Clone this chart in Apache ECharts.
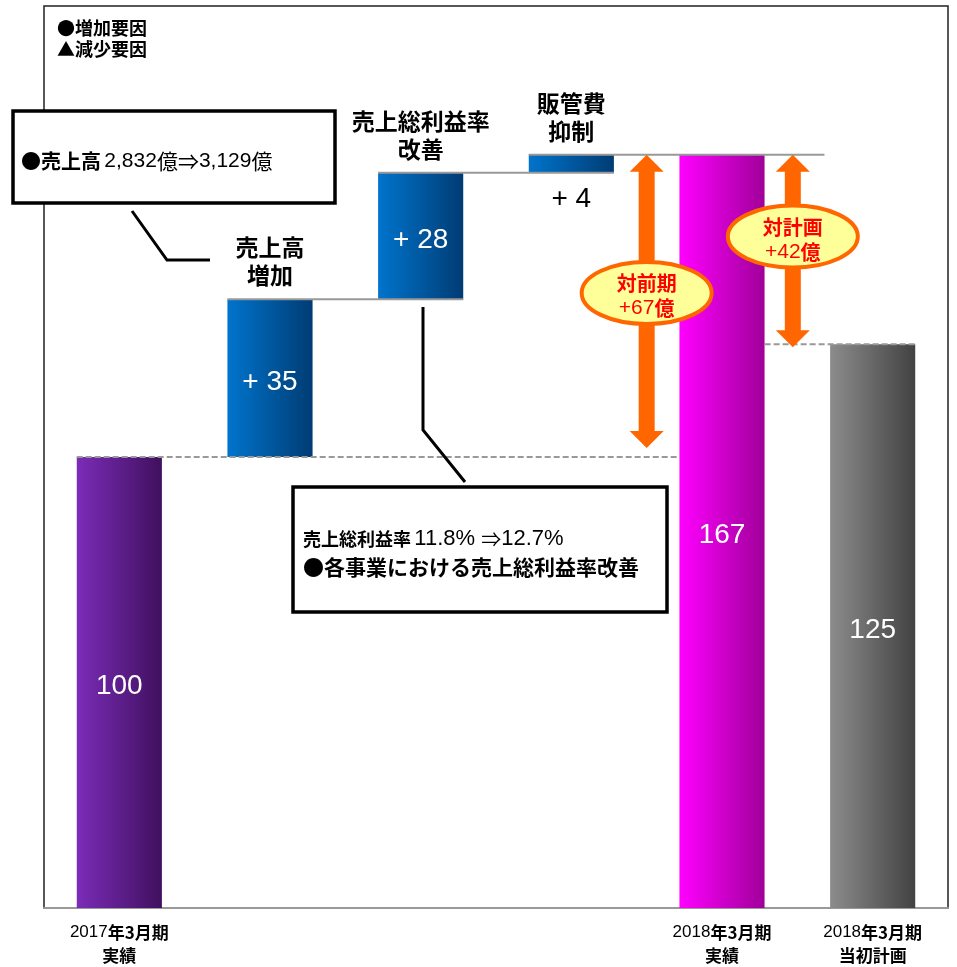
<!DOCTYPE html>
<html>
<head>
<meta charset="utf-8">
<title>営業利益 増減要因</title>
<script src="https://cdn.jsdelivr.net/npm/echarts@6/dist/echarts.min.js"></script>
<style>
  html, body { margin: 0; padding: 0; background: #fff; }
  #chart { width: 957px; height: 967px; }
</style>
</head>
<body>
<div id="chart"></div>
<script>
// x軸のカテゴリ
const categories = ['2017年3月期\n実績', '', '', '', '2018年3月期\n実績', '2018年3月期\n当初計画'];
// 増減要因（バーの上の見出し）
const stepNames = ['', '売上高\n増加', '売上総利益率\n改善', '販管費\n抑制', '', ''];
// 値：合計は0から、要因は前の合計に積み上げ
const values = [100, 35, 28, 4, 167, 125];
const isTotal = [true, false, false, false, true, true];
const valueLabels = ['100', '+ 35', '+ 28', '+ 4', '167', '125'];
// 比較矢印（実績 → 比較対象）
const compareFrom = [4, 4];
const compareTo = [0, 5];
const compareTitles = ['対前期', '対計画'];

// ---- レイアウト・スタイル ----
const HALF = 0.283;            // バー幅の半分（カテゴリ幅比）
const compareX = [3.5, 4.47];  // 矢印の位置（カテゴリ単位）
const arrowInset = [9, -3];    // 矢印下端の余白(px)
const barColors = [
  ['#7B2CB8', '#40105E'],
  ['#0074CC', '#003C74'],
  ['#0074CC', '#003C74'],
  ['#0074CC', '#003C74'],
  ['#FF00FF', '#A0009A'],
  ['#8C8C8C', '#424242']
];
const LATIN = '"Liberation Sans", Arial, sans-serif';
const CJK = '"Noto Sans CJK JP", sans-serif';

// 積み上げのベース計算
const base = [];
let running = 0;
values.forEach((v, i) => {
  if (isTotal[i]) { base.push(0); running = v; }
  else { base.push(running); running += v; }
});
const tops = values.map((v, i) => base[i] + v);

// 連結線
const connectors = [
  { level: tops[0], from: -HALF, to: 4 - HALF, dashed: true },
  { level: tops[1], from: 1 - HALF, to: 2 + HALF },
  { level: tops[2], from: 2 - HALF, to: 3 + HALF },
  { level: tops[3], from: 3 - HALF, to: 4.68 },
  { level: tops[5], from: 4 + HALF, to: 5 + HALF, dashed: true }
];

const chart = echarts.init(document.getElementById('chart'));

function grad(c) {
  return new echarts.graphic.LinearGradient(0, 0, 1, 0, [
    { offset: 0, color: c[0] }, { offset: 1, color: c[1] }
  ]);
}

const barData = values.map((v, i) => {
  const item = { value: v, itemStyle: { color: grad(barColors[i]) } };
  if (i === 3) {
    item.label = { position: 'bottom', color: '#000', distance: 12, offset: [0, 0] };
  }
  return item;
});

const option = {
  animation: false,
  backgroundColor: '#fff',
  grid: {
    left: 44, right: 9, top: 6, bottom: 59,
    show: true, borderColor: '#222', borderWidth: 1.5
  },
  xAxis: {
    type: 'category',
    data: categories,
    axisLine: { lineStyle: { color: '#999', width: 2 } },
    axisTick: { lineStyle: { color: '#999', width: 2 }, length: 5 },
    axisLabel: {
      interval: 0,
      margin: 13,
      formatter: v => {
        if (!v) return '';
        const [l1, l2] = v.split('\n');
        const m = l1.match(/^(\d+)(.*)$/);
        return '{n|' + m[1] + '}{b|' + m[2] + '}\n{b|' + l2 + '}';
      },
      rich: {
        n: { fontFamily: LATIN, fontSize: 17, color: '#000', lineHeight: 23 },
        b: { fontFamily: CJK, fontSize: 17, fontWeight: 'bold', color: '#000', lineHeight: 23 }
      }
    }
  },
  yAxis: { type: 'value', min: 0, max: 200, show: false, splitLine: { show: false } },
  series: [
    {
      type: 'bar', stack: 'w', barWidth: '56.5%',
      itemStyle: { color: 'transparent' },
      emphasis: { disabled: true },
      data: base
    },
    {
      type: 'bar', stack: 'w', barWidth: '56.5%',
      data: barData,
      label: {
        show: true, position: 'inside', color: '#fff',
        fontFamily: LATIN, fontSize: 28, offset: [0, 4],
        formatter: p => valueLabels[p.dataIndex]
      }
    },
    {
      // 連結線
      type: 'custom', z: 5,
      data: connectors.map(c => [0, c.level, c.from, c.to, c.dashed ? 1 : 0]),
      encode: { x: 0, y: 1 },
      renderItem: (params, api) => {
        const p = api.coord([0, api.value(1)]);
        const bw = api.size([1, 0])[0];
        return {
          type: 'line',
          shape: { x1: p[0] + api.value(2) * bw, y1: p[1], x2: p[0] + api.value(3) * bw, y2: p[1] },
          style: { stroke: '#999', lineWidth: 2, lineDash: api.value(4) ? [6, 3] : null }
        };
      }
    },
    {
      // 要因の見出し
      type: 'custom', z: 6,
      data: stepNames.map((n, i) => [i, tops[i]]),
      encode: { x: 0, y: 1 },
      renderItem: (params, api) => {
        const name = stepNames[params.dataIndex];
        if (!name) return null;
        const p = api.coord([api.value(0), api.value(1)]);
        return {
          type: 'text',
          x: p[0], y: p[1] - 10,
          style: {
            text: name, fill: '#000', align: 'center', verticalAlign: 'bottom',
            font: 'bold 23px ' + CJK, lineHeight: 28
          }
        };
      }
    },
    {
      // 比較矢印
      type: 'custom', z: 8,
      data: compareFrom.map((f, i) => [0, tops[f], tops[compareTo[i]], compareX[i], arrowInset[i]]),
      encode: { x: 0, y: 1 },
      renderItem: (params, api) => {
        const i = params.dataIndex;
        const bw = api.size([1, 0])[0];
        const pTop = api.coord([0, api.value(1)]);
        const pBot = api.coord([0, api.value(2)]);
        const x = pTop[0] + api.value(3) * bw;
        const y1 = pTop[1], y2 = pBot[1] - api.value(4);
        const sw = 8, hw = 17, hl = 17;
        const pts = [
          [x, y1], [x + hw, y1 + hl], [x + sw, y1 + hl], [x + sw, y2 - hl], [x + hw, y2 - hl],
          [x, y2], [x - hw, y2 - hl], [x - sw, y2 - hl], [x - sw, y1 + hl], [x - hw, y1 + hl]
        ];
        const diff = api.value(1) - api.value(2);
        const cy = (pTop[1] + pBot[1]) / 2 - 13;
        return {
          type: 'group',
          children: [
            { type: 'polygon', shape: { points: pts }, style: { fill: '#FF6600' } },
            {
              type: 'ellipse', shape: { cx: x, cy: cy, rx: 65, ry: 31 },
              style: { fill: '#FFFF99', stroke: '#FF6600', lineWidth: 4 }
            },
            {
              type: 'text', x: x, y: cy + 3,
              style: {
                text: '{t|' + compareTitles[i] + '}\n{n|+' + diff + '}{k|億}',
                align: 'center', verticalAlign: 'middle',
                rich: {
                  t: { fontFamily: CJK, fontWeight: 'bold', fontSize: 20, fill: '#FF0000', lineHeight: 25 },
                  n: { fontFamily: LATIN, fontSize: 21, fill: '#FF0000', lineHeight: 25 },
                  k: { fontFamily: CJK, fontWeight: 'bold', fontSize: 20, fill: '#FF0000', lineHeight: 25 }
                }
              }
            }
          ]
        };
      }
    }
  ],
  graphic: [
    {
      type: 'text', left: 57, top: 18, z: 100,
      style: { text: '●増加要因\n▲減少要因', font: 'bold 18px ' + CJK, lineHeight: 21, fill: '#000' }
    },
    {
      type: 'polyline', z: 100,
      shape: { points: [[132, 211], [167, 260], [210, 260]] },
      style: { stroke: '#000', lineWidth: 3, fill: null }
    },
    {
      type: 'rect', z: 100,
      shape: { x: 13, y: 111, width: 322, height: 92 },
      style: { fill: '#fff', stroke: '#000', lineWidth: 3.5 }
    },
    {
      type: 'text', x: 21, y: 161, z: 101,
      style: {
        text: '{b|●売上高} {n|2,832}{c|億⇒}{n|3,129}{c|億}',
        verticalAlign: 'middle',
        rich: {
          b: { fontFamily: CJK, fontWeight: 'bold', fontSize: 20, fill: '#000' },
          n: { fontFamily: LATIN, fontSize: 21, fill: '#000' },
          c: { fontFamily: CJK, fontSize: 21, fill: '#000' }
        }
      }
    },
    {
      type: 'polyline', z: 100,
      shape: { points: [[423, 307], [423, 430], [465, 482]] },
      style: { stroke: '#000', lineWidth: 3, fill: null }
    },
    {
      type: 'rect', z: 100,
      shape: { x: 293, y: 487, width: 374, height: 125 },
      style: { fill: '#fff', stroke: '#000', lineWidth: 3.5 }
    },
    {
      type: 'text', x: 303, y: 553, z: 101,
      style: {
        text: '{b|売上総利益率} {n|11.8% }{c|⇒}{n|12.7%}\n{d|●各事業における売上総利益率改善}',
        verticalAlign: 'middle',
        rich: {
          b: { fontFamily: CJK, fontWeight: 'bold', fontSize: 18, fill: '#000', lineHeight: 28 },
          n: { fontFamily: LATIN, fontSize: 22, fill: '#000', lineHeight: 28 },
          c: { fontFamily: CJK, fontSize: 20, fill: '#000', lineHeight: 28 },
          d: { fontFamily: CJK, fontWeight: 'bold', fontSize: 21, fill: '#000', lineHeight: 28 }
        }
      }
    }
  ]
};

chart.setOption(option);
window.addEventListener('resize', () => chart.resize());
</script>
</body>
</html>
